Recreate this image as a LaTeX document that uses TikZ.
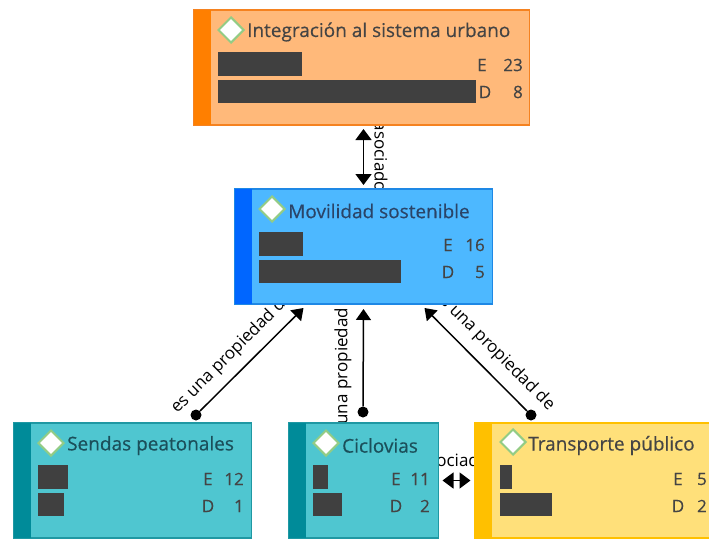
\documentclass[tikz,border=0pt]{standalone}
\usepackage{fontspec}
\setmainfont{Open Sans}
\usetikzlibrary{arrows.meta,backgrounds,calc,shapes.geometric}
\definecolor{inkgray}{HTML}{444444}
\definecolor{inkblue}{HTML}{2A4468}
\definecolor{inkteal}{HTML}{1B4F5A}
\definecolor{barcol}{HTML}{404040}
\definecolor{diamondline}{HTML}{93CC85}
\tikzset{
    concept/.style={draw, rectangle, line width=1.2pt, inner sep=0pt, outer sep=0pt, anchor=north west},
    stripe/.style={rectangle, inner sep=0pt, outer sep=0pt, anchor=north west},
    bar/.style={fill=barcol, rectangle, inner sep=0pt, outer sep=0pt, anchor=north west},
    mark diamond/.style={diamond, aspect=1, draw=diamondline, fill=white, line width=2pt, minimum size=26pt, inner sep=0pt},
    title/.style={anchor=west, inner sep=0pt, font=\fontsize{19}{22}\selectfont\addfontfeature{FakeBold=0.4}},
    stat/.style={inner sep=0pt, font=\fontsize{17}{20}\selectfont\addfontfeature{FakeBold=0.4}},
    link/.style={draw=black, line width=1.5pt},
    twoway/.style={link, {Triangle[width=16pt,length=11pt]}-{Triangle[width=16pt,length=11pt]}, shorten >=4pt, shorten <=4pt},
    oneway/.style={link, -{Triangle[width=15pt,length=11pt]}},
    dotnode/.style={circle, fill=black, inner sep=0pt, minimum size=11pt},
    linklabel/.style={inner sep=0pt, font=\fontsize{17}{20}\selectfont, text=black}
}
\begin{document}
\begin{tikzpicture}[x=1pt, y=-1pt]
    \useasboundingbox (0,0) rectangle (709,538);
    % boxes
    \foreach \name/\x/\y/\w/\fillcol/\stripecol/\linecol in {
        integracion/193.5/10/336/FFB97A/FF7F00/F58220,
        movilidad/234.5/189/258/4DB8FF/0066FF/1E88E5,
        sendas/13.5/423/238/4FC6D0/008B99/1F98A3,
        ciclovias/288.5/423/150/4FC6D0/008B99/1F98A3,
        transporte/474.5/423/238/FFE07A/FFC000/FFC000}
    {
        \definecolor{boxfill}{HTML}{\fillcol}
        \definecolor{boxstripe}{HTML}{\stripecol}
        \definecolor{boxline}{HTML}{\linecol}
        \node[concept, fill=boxfill, draw=boxline, minimum width=\w pt, minimum height=115pt] (\name) at (\x,\y) {};
        \node[stripe, fill=boxstripe, minimum width=17.5pt, minimum height=115pt] (\name-stripe) at (\x,\y) {};
    }
    % titles
    \node[mark diamond] (integracion-mark) at (231,30) {};
    \node[title, text=inkgray] (integracion-title) at (247,32) {Integración al sistema urbano};
    \node[mark diamond] (movilidad-mark) at (272,209) {};
    \node[title, text=inkblue] (movilidad-title) at (288,211) {Movilidad sostenible};
    \node[mark diamond] (sendas-mark) at (51,443) {};
    \node[title, text=inkteal] (sendas-title) at (67,445.5) {Sendas peatonales};
    \node[mark diamond] (ciclovias-mark) at (326,443) {};
    \node[title, text=inkteal] (ciclovias-title) at (342,445.5) {Ciclovias};
    \node[mark diamond] (transporte-mark) at (513,442) {};
    \node[title, text=inkgray] (transporte-title) at (528,445.5) {Transporte público};
    % bars
    \foreach \name/\x/\y/\w/\h in {
        integracion-e/218/52/84/24, integracion-d/218/80/258/23,
        movilidad-e/259/232/44/24, movilidad-d/259/260/142/23,
        sendas-e/38/465/30/24, sendas-d/38/493/26/23,
        ciclovias-e/313/465/15/24, ciclovias-d/313/493/29/23,
        transporte-e/500/465/12/24, transporte-d/500/493/52/23}
        \node[bar, minimum width=\w pt, minimum height=\h pt] (bar-\name) at (\x,\y) {};
    % numbers
    \foreach \name/\lx/\rx/\y/\lab/\val in {
        integracion-e/482/523/65/E/23, integracion-d/485/523/92/D/8,
        movilidad-e/448/485/245/E/16, movilidad-d/448/485/272/D/5,
        sendas-e/208/244/479/E/12, sendas-d/208/244/506/D/1,
        ciclovias-e/396/430/479/E/11, ciclovias-d/396/430/506/D/2,
        transporte-e/678/707/479/E/5, transporte-d/678/707/506/D/2}
    {
        \node[stat, text=inkgray] (lab-\name) at (\lx,\y) {\lab};
        \node[stat, text=inkgray, anchor=east] (val-\name) at (\rx,\y) {\val};
    }
    % connectors go under the boxes
    \node[dotnode] (dot-sendas) at (196,415) {};
    \node[dotnode] (dot-ciclovias) at (363,412) {};
    \node[dotnode] (dot-transporte) at (531,415) {};
    \coordinate (tip-sendas) at ($(movilidad.south)+(-60,4)$);
    \coordinate (tip-ciclovias) at ($(movilidad.south)+(0,5)$);
    \coordinate (tip-transporte) at ($(movilidad.south)+(61,4)$);
    \coordinate (top-end) at (movilidad.north |- integracion.south);
    \begin{scope}[on background layer]
        \draw[twoway] (top-end) -- (movilidad.north);
        \draw[twoway] (ciclovias.east) -- (transporte.west);
        \draw[oneway] (dot-sendas) -- (tip-sendas);
        \draw[oneway] (dot-ciclovias) -- (tip-ciclovias);
        \draw[oneway] (dot-transporte) -- (tip-transporte);
        \node[linklabel, rotate=-90] (label-top) at (381,157) {asociado};
        \node[linklabel] (label-low) at (454,460) {asociado};
        \node[linklabel, rotate=45] (label-sendas) at (232,353) {es una propiedad de};
        \node[linklabel, rotate=90] (label-ciclovias) at (343,365) {es una propiedad de};
        \node[linklabel, rotate=-45] (label-transporte) at (494,350) {es una propiedad de};
    \end{scope}
\end{tikzpicture}
\end{document}
